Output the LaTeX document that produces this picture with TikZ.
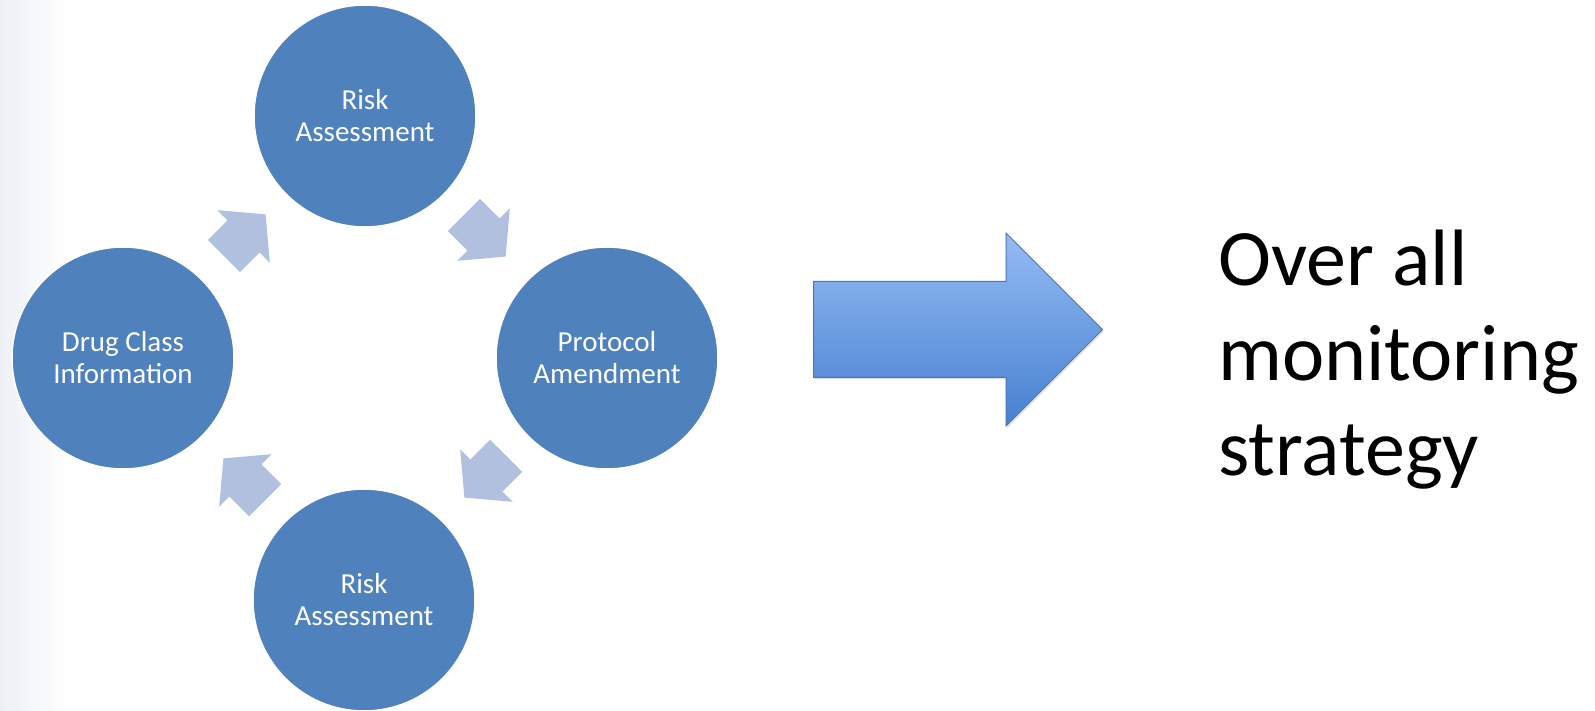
\documentclass[tikz,border=0pt]{standalone}
\usepackage{fontspec}
\setmainfont{Carlito}
\usetikzlibrary{shapes.arrows, positioning, calc, shadows}

\definecolor{phaseblue}{RGB}{79,129,189}
\definecolor{cyclearrow}{RGB}{176,192,222}
\definecolor{bigtop}{RGB}{148,188,244}
\definecolor{bigbot}{RGB}{70,128,208}
\definecolor{bigedge}{RGB}{72,118,186}
\definecolor{bgtint}{RGB}{238,240,247}

\begin{document}
\begin{tikzpicture}[
  x=1pt, y=1pt,
  phase/.style={circle, fill=phaseblue, draw=white, line width=1.5pt, minimum size=222pt, inner sep=0pt, align=center, text=white, font=\fontsize{29}{32}\selectfont},
  cyc/.style={single arrow, fill=cyclearrow, minimum height=59pt, inner xsep=0pt, inner ysep=22.5pt, single arrow head extend=14.5pt, single arrow tip angle=100},
  bigarrow/.style={single arrow, draw=bigedge, line width=1pt, top color=bigtop, bottom color=bigbot, minimum height=289pt, inner xsep=0pt, inner ysep=47.5pt, single arrow head extend=48.5pt, single arrow tip angle=90, drop shadow={opacity=0.25, shadow xshift=1pt, shadow yshift=-2pt}}
]
  \useasboundingbox (0,0) rectangle (1595,710);
  \shade[left color=bgtint, right color=white] (0,0) rectangle (70,710);

  % the four phases of the cycle
  \node[phase] (risktop) at (365,594) {Risk\\Assessment};
  \node[phase] (druginfo) at (123,352) {Drug Class\\Information};
  \node[phase] (protocol) at (607,352) {Protocol\\Amendment};
  \node[phase] (riskbot) at (364,110) {Risk\\Assessment};

  % cycle arrows
  \node[cyc, rotate=45] (cyc1) at ($(druginfo)!0.5!(risktop)+(-6,-5)$) {};
  \node[cyc, rotate=-45] (cyc2) at ($(risktop)!0.5!(protocol)+(-8,8)$) {};
  \node[cyc, rotate=-135] (cyc3) at ($(protocol)!0.5!(riskbot)+(6.5,9)$) {};
  \node[cyc, rotate=135] (cyc4) at ($(riskbot)!0.5!(druginfo)+(7.5,-7)$) {};

  % result
  \node[bigarrow, anchor=tail] (bigarr) at (813,380.5) {};
  \node[anchor=north west, align=left, inner sep=0pt, font=\fontsize{80}{95}\selectfont] (overall) at (1218,480) {Over all\\monitoring\\strategy};
\end{tikzpicture}
\end{document}
